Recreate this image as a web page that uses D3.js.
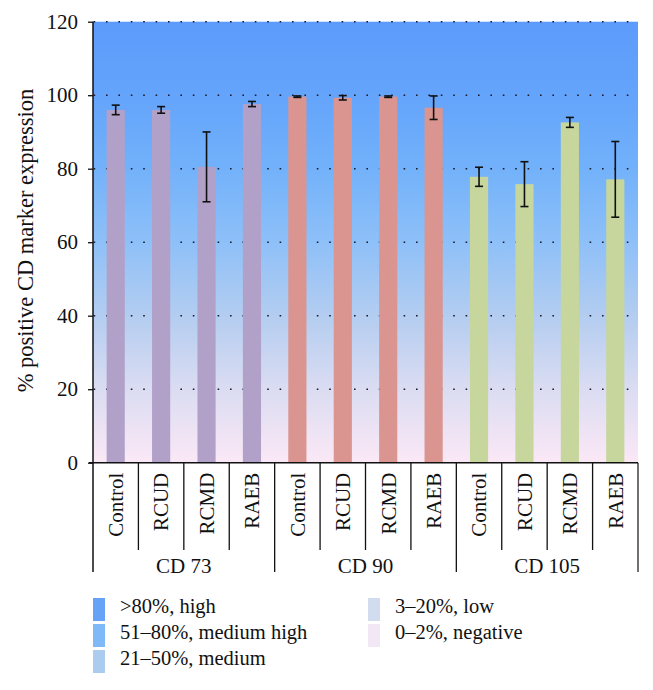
<!DOCTYPE html>
<html>
<head>
<meta charset="utf-8">
<script src="https://cdn.jsdelivr.net/npm/d3@7"></script>
<style>
  html, body { margin: 0; padding: 0; background: #ffffff; }
  svg { display: block; }
  text { font-family: "Liberation Serif", "DejaVu Serif", serif; fill: #111; }
</style>
</head>
<body>
<svg id="chart" width="653" height="690"></svg>
<script>
// ---------- data ----------
const groups = ["CD 73", "CD 90", "CD 105"];
const subgroups = ["Control", "RCUD", "RCMD", "RAEB"];
const cd73Values = [96.0, 96.0, 80.5, 97.6];
const cd73Errors = [1.3, 0.9, 9.5, 0.7];
const cd90Values = [99.6, 99.3, 99.6, 96.6];
const cd90Errors = [0.2, 0.6, 0.2, 3.2];
const cd105Values = [77.8, 75.8, 92.6, 77.1];
const cd105Errors = [2.6, 6.1, 1.35, 10.3];
const yTicks = [0, 20, 40, 60, 80, 100, 120];
const legendLabels = [">80%, high", "51\u201380%, medium high", "21\u201350%, medium", "3\u201320%, low", "0\u20132%, negative"];
const legendColors = ["#66a3f6", "#80b9f8", "#abcbef", "#d2dcef", "#f2e7f4"];
const groupColors = ["#b1a1c9", "#da9591", "#c6d69c"];
const yTitle = "% positive CD marker expression";

const groupValues = [cd73Values, cd90Values, cd105Values];
const groupErrors = [cd73Errors, cd90Errors, cd105Errors];
const rows = [];
groups.forEach((g, gi) => subgroups.forEach((s, si) => {
  rows.push({ key: g + "|" + s, group: g, gi, sub: s, value: groupValues[gi][si], err: groupErrors[gi][si] });
}));

// ---------- layout ----------
const svg = d3.select("#chart");
const L = 93, R = 638, T = 21.7, B = 462.7;
const catBottom = 550, grpBottom = 572;

const x = d3.scaleBand().domain(rows.map(d => d.key)).range([L, R]).paddingInner(0.6).paddingOuter(0.3);
const y = d3.scaleLinear().domain([0, 120]).range([B, T]);
const step = x.step();

// background gradient
const defs = svg.append("defs");
const grad = defs.append("linearGradient").attr("id", "bg")
  .attr("gradientUnits", "userSpaceOnUse")
  .attr("x1", 0).attr("y1", y(120)).attr("x2", 0).attr("y2", y(0));
[[0, "#5c9bfb"], [0.17, "#64a4fb"], [0.33, "#72b1fa"], [0.5, "#8ec0f8"],
 [0.67, "#b4cdf0"], [0.83, "#dadcf2"], [1, "#fbe8f6"]].forEach(([o, c]) => {
  grad.append("stop").attr("offset", o).attr("stop-color", c);
});
svg.append("rect").attr("x", L).attr("y", y(120)).attr("width", R - L).attr("height", y(0) - y(120)).attr("fill", "url(#bg)");

// dotted gridlines
svg.append("g").selectAll("line").data(yTicks.filter(t => t > 0)).join("line")
  .attr("x1", L).attr("x2", R).attr("y1", d => y(d)).attr("y2", d => y(d))
  .attr("stroke", "#1a1a2a").attr("stroke-width", 1.4)
  .attr("stroke-dasharray", "1.6,10.8").attr("stroke-dashoffset", -13);

// bars
svg.append("g").selectAll("rect").data(rows).join("rect")
  .attr("x", d => x(d.key)).attr("width", x.bandwidth())
  .attr("y", d => y(d.value)).attr("height", d => y(0) - y(d.value))
  .attr("fill", d => groupColors[d.gi]);

// error bars
const eb = svg.append("g").attr("stroke", "#111").attr("stroke-width", 1.6);
rows.forEach(d => {
  const cx = x(d.key) + x.bandwidth() / 2;
  const y1 = y(d.value + d.err), y2 = y(d.value - d.err);
  eb.append("line").attr("x1", cx).attr("x2", cx).attr("y1", y1).attr("y2", y2);
  eb.append("line").attr("x1", cx - 4).attr("x2", cx + 4).attr("y1", y1).attr("y2", y1);
  eb.append("line").attr("x1", cx - 4).attr("x2", cx + 4).attr("y1", y2).attr("y2", y2);
});

// y axis
const yAxis = svg.append("g").attr("transform", `translate(${L},0)`)
  .call(d3.axisLeft(y).tickValues(yTicks).tickSize(5).tickPadding(10).tickSizeOuter(0));
yAxis.select(".domain").remove();
yAxis.selectAll(".tick line").attr("stroke", "#111").attr("stroke-width", 1.3);
yAxis.selectAll(".tick text").attr("font-size", 21).attr("font-family", "Liberation Serif").attr("fill", "#111");

// axis lines
svg.append("line").attr("x1", L).attr("x2", L).attr("y1", T).attr("y2", grpBottom).attr("stroke", "#111").attr("stroke-width", 1.5);
svg.append("line").attr("x1", L - 4).attr("x2", R).attr("y1", B).attr("y2", B).attr("stroke", "#111").attr("stroke-width", 1.5);
svg.append("line").attr("x1", R).attr("x2", R).attr("y1", B).attr("y2", grpBottom).attr("stroke", "#111").attr("stroke-width", 1.2);

// category separators
const sep = svg.append("g").attr("stroke", "#111").attr("stroke-width", 1.3);
rows.forEach((d, i) => {
  if (i === 0) return;
  const xx = x(d.key) - step * x.paddingInner() / 2;
  const isGroup = i % subgroups.length === 0;
  sep.append("line").attr("x1", xx).attr("x2", xx).attr("y1", B).attr("y2", isGroup ? grpBottom : catBottom);
});

// category labels
svg.append("g").selectAll("text").data(rows).join("text")
  .attr("transform", d => `translate(${x(d.key) + x.bandwidth() / 2},${B + 10}) rotate(-90)`)
  .attr("text-anchor", "end").attr("dy", "0.35em")
  .attr("font-size", 21).text(d => d.sub);

// group labels
svg.append("g").selectAll("text").data(groups).join("text")
  .attr("x", (g, gi) => {
    const first = x(g + "|" + subgroups[0]), last = x(g + "|" + subgroups[subgroups.length - 1]);
    return (first + last + x.bandwidth()) / 2;
  })
  .attr("y", 573).attr("text-anchor", "middle").attr("font-size", 21).text(d => d);

// y title
svg.append("text").attr("transform", `translate(33,240.5) rotate(-90)`)
  .attr("text-anchor", "middle").attr("font-size", 22.5).text(yTitle);

// legend
const lg = svg.append("g");
legendLabels.forEach((lab, i) => {
  const col = i < 3 ? 0 : 1;
  const row = i < 3 ? i : i - 3;
  const lx = col === 0 ? 93 : 368;
  const base = 613 + row * 26;
  lg.append("rect").attr("x", lx).attr("y", base - 15).attr("width", 12).attr("height", 23).attr("fill", legendColors[i]);
  lg.append("text").attr("x", lx + 27).attr("y", base).attr("font-size", 20.5).text(lab);
});
</script>
</body>
</html>
